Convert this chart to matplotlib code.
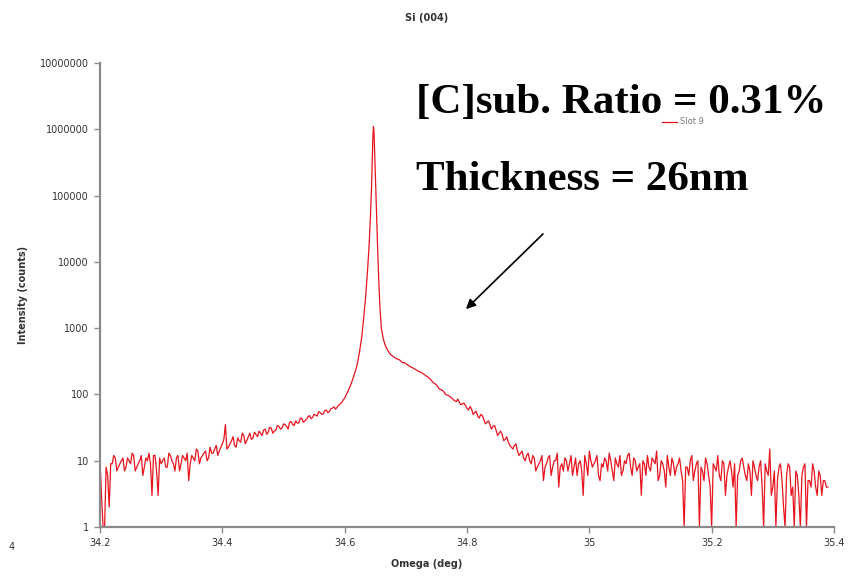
import numpy as np
import matplotlib
matplotlib.use("Agg")
import matplotlib.pyplot as plt
from matplotlib.ticker import FixedLocator, NullLocator

# Rocking curve around Si (004), counts
scan_step = 0.005

# left background, starts at 34.200 (a) and 34.2025 (b)
left_start = 34.200
left_counts_a = [10, 1, 8, 2, 9, 11, 8, 10, 7, 11, 9, 12, 8, 10, 6, 11, 13, 3, 12, 3,
                 9, 11, 8, 12, 9, 11, 7, 12, 10, 5, 12, 10, 14, 11, 13, 10, 16, 13, 17, 14,
                 18, 35, 16, 20, 17, 22, 19, 24, 20, 26, 22, 25, 28, 24, 30, 27, 31, 28, 34, 30,
                 36, 33, 38, 35, 40, 37, 43, 40, 46, 43, 50, 47, 53, 51, 58, 55, 62, 60, 68, 75,
                 88, 110]
left_counts_b = [3, 1, 6, 9, 12, 7, 9, 11, 8, 10, 13, 7, 9, 12, 8, 10, 9, 12, 7, 11,
                 10, 8, 13, 10, 7, 12, 9, 11, 13, 9, 11, 15, 9, 12, 14, 11, 13, 15, 12, 16,
                 21, 15, 18, 23, 16, 20, 26, 18, 23, 21, 27, 23, 26, 29, 25, 32, 26, 29, 33, 31,
                 35, 30, 39, 34, 37, 44, 38, 42, 48, 45, 49, 55, 50, 57, 53, 61, 65, 64, 72, 82,
                 98]

# substrate peak
peak_omega = [34.610, 34.615, 34.620, 34.624, 34.628, 34.631, 34.634, 34.637, 34.640,
              34.642, 34.644, 34.645, 34.646, 34.647, 34.648, 34.649, 34.650, 34.652,
              34.654, 34.656, 34.658, 34.660, 34.663, 34.666, 34.670, 34.675]
peak_counts = [140, 190, 270, 420, 750, 1400, 2800, 6500, 18000,
               45000, 140000, 320000, 700000, 1100000, 900000, 450000, 200000, 60000,
               15000, 4500, 1800, 1000, 700, 560, 470, 400]

# right shoulder + background, starts at 34.680 (a) and 34.6825 (b)
right_start = 34.680
right_counts_a = [370, 345, 330, 300, 290, 270, 255, 240, 225, 215, 200, 185, 170, 150, 140,
                  120, 115, 100, 96, 88, 80, 85, 70, 74, 62, 66, 50, 56, 44, 48,
                  36, 40, 30, 34, 24, 28, 20, 23, 17, 15, 18, 12, 14, 10, 13,
                  9, 11, 8, 10, 5, 9, 12, 8, 10, 4, 9, 11, 7, 12, 8,
                  6, 10, 3, 9, 14, 8, 10, 6, 9, 11, 7, 10, 5, 9, 12,
                  7, 9, 13, 6, 10, 8, 3, 9, 12, 7, 10, 14, 6, 9, 4,
                  8, 11, 6, 9, 7, 1, 8, 10, 5, 9, 1, 7, 11, 6, 1,
                  8, 12, 5, 9, 6, 10, 4, 1, 7, 11, 6, 9, 3, 8, 5,
                  10, 1, 7, 15, 4, 1, 8, 5, 1, 9, 3, 1, 6, 1, 8,
                  1, 5, 9, 4, 7, 3, 5, 4]
right_counts_b = [355, 340, 315, 305, 280, 262, 248, 232, 220, 208, 192, 178, 160, 145, 130,
                  118, 108, 98, 92, 84, 78, 76, 72, 68, 58, 60, 53, 47, 50, 42,
                  38, 35, 33, 29, 26, 25, 21, 19, 16, 17, 14, 13, 11, 12, 10,
                  12, 7, 9, 12, 8, 11, 6, 10, 13, 8, 7, 10, 9, 6, 11,
                  9, 7, 12, 6, 10, 9, 12, 5, 8, 10, 13, 7, 11, 8, 6,
                  10, 12, 8, 11, 7, 9, 10, 6, 8, 11, 9, 5, 10, 7, 12,
                  6, 9, 8, 11, 5, 8, 6, 12, 7, 10, 8, 5, 9, 4, 9,
                  7, 6, 10, 3, 8, 7, 9, 6, 10, 8, 5, 7, 10, 6, 8,
                  4, 9, 6, 3, 7, 5, 9, 2, 6, 8, 4, 7, 3, 6, 9,
                  5, 4, 7, 3, 6, 5, 4]

omega = np.concatenate([
    left_start + scan_step * np.arange(len(left_counts_a)),
    left_start + scan_step / 2 + scan_step * np.arange(len(left_counts_b)),
    peak_omega,
    right_start + scan_step * np.arange(len(right_counts_a)),
    right_start + scan_step / 2 + scan_step * np.arange(len(right_counts_b)),
])
counts = np.concatenate([left_counts_a, left_counts_b, peak_counts,
                         right_counts_a, right_counts_b])
order = np.argsort(omega)
omega, counts = omega[order], counts[order]

x_ticks = [34.2, 34.4, 34.6, 34.8, 35, 35.2, 35.4]
x_ticklabels = ["34.2", "34.4", "34.6", "34.8", "35", "35.2", "35.4"]
y_ticks = [1, 10, 100, 1000, 10000, 100000, 1000000, 10000000]

W, H = 851, 578
fig = plt.figure(figsize=(W / 100, H / 100), dpi=100)
ax = fig.add_axes([100 / W, 1 - 527 / H, 734 / W, 464 / H])

ax.plot(omega, counts, color="#e8141e", lw=0.9, label="Slot 9")
ax.set_yscale("log")
ax.set_xlim(34.2, 35.4)
ax.set_ylim(1, 1e7)

ax.xaxis.set_major_locator(FixedLocator(x_ticks))
ax.set_xticklabels(x_ticklabels)
ax.yaxis.set_major_locator(FixedLocator(y_ticks))
ax.yaxis.set_minor_locator(NullLocator())
ax.set_yticklabels([str(v) for v in y_ticks])

axis_grey = "#8a8a8a"
for s in ["top", "right"]:
    ax.spines[s].set_visible(False)
for s in ["left", "bottom"]:
    ax.spines[s].set_color(axis_grey)
    ax.spines[s].set_linewidth(1.6)
ax.tick_params(colors=axis_grey, labelcolor="#333333", length=4, width=1,
               labelsize=7, pad=4)

ax.legend(loc="center left", bbox_to_anchor=(0.756, 0.873), frameon=False,
          fontsize=6, handlelength=1.7, handletextpad=0.4, labelcolor="#777777")

# axis titles in the small Excel style
fig.text(427 / W, 1 - 18 / H, "Si (004)", ha="center", va="center",
         fontsize=7, fontweight="bold", color="#333333")
fig.text(427 / W, 1 - 564 / H, "Omega (deg)", ha="center", va="center",
         fontsize=7, fontweight="bold", color="#333333")
fig.text(23 / W, 1 - 295 / H, "Intensity (counts)", ha="center", va="center",
         rotation=90, fontsize=7, fontweight="bold", color="#333333")
fig.text(12 / W, 1 - 547 / H, "4", ha="center", va="center", fontsize=7, color="#333333")

# big annotation
fig.text(416 / W, 1 - 103 / H, "[C]sub. Ratio = 0.31%", ha="left", va="center",
         fontsize=31, fontweight="bold", family="Liberation Serif")
fig.text(416 / W, 1 - 180 / H, "Thickness = 26nm", ha="left", va="center",
         fontsize=31, fontweight="bold", family="Liberation Serif")
fig.add_artist(matplotlib.patches.FancyArrowPatch(
    (545 / W, 1 - 232 / H), (464 / W, 1 - 311 / H), transform=fig.transFigure,
    arrowstyle="-|>", mutation_scale=14, lw=1.2, color="black"))

fig.savefig("out.png", dpi=100)
